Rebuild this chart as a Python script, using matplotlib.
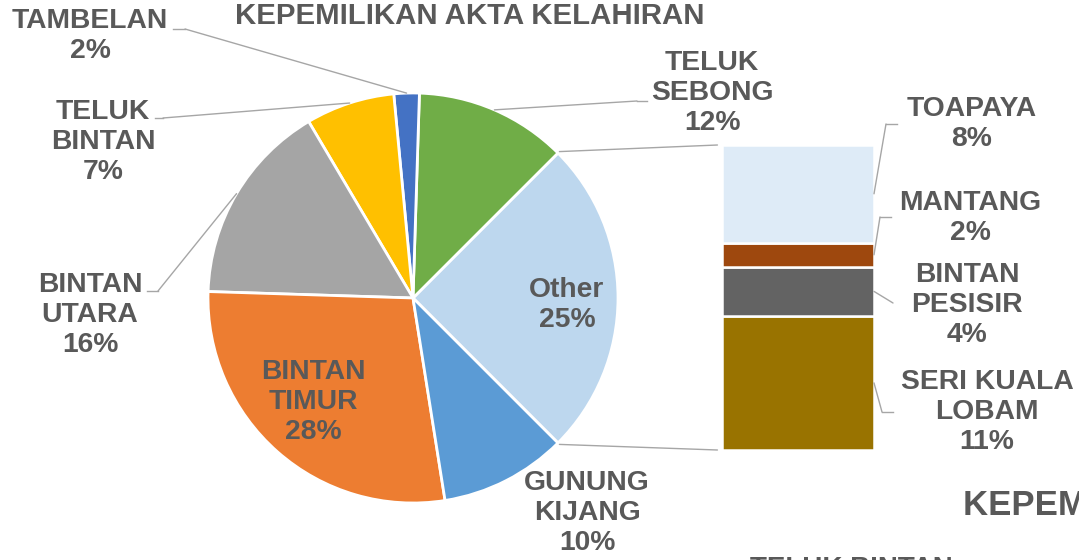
import matplotlib.pyplot as plt
from matplotlib.lines import Line2D
import numpy as np

plt.rcParams['font.family'] = ['Liberation Sans', 'DejaVu Sans']
plt.rcParams['font.weight'] = 'bold'

W, H = 1079, 560

# pie slices, counter-clockwise after the "Other" wedge
pie_names = ['TELUK SEBONG', 'TAMBELAN', 'TELUK BINTAN', 'BINTAN UTARA', 'BINTAN TIMUR', 'GUNUNG KIJANG']
pie_values = [12, 2, 7, 16, 28, 10]
pie_colors = ['#70AD47', '#4472C4', '#FFC000', '#A5A5A5', '#ED7D31', '#5B9BD5']

# the "Other" wedge broken out into the bar, bottom to top
bar_names = ['SERI KUALA LOBAM', 'BINTAN PESISIR', 'MANTANG', 'TOAPAYA']
bar_values = [11, 4, 2, 8]
bar_colors = ['#997300', '#636363', '#9E480E', '#DEEBF7']

title = 'KEPEMILIKAN AKTA KELAHIRAN'

TXT = '#595959'
LEAD = '#A6A6A6'
FS = 20.3
LS = 1.22


def ff(x, y):
    # pixel position (from top-left) -> figure fraction
    return x / W, 1 - y / H


def wrap(name):
    return '\n'.join(name.rsplit(' ', 1))


# label block centres and leader stubs, in pixels
label_pos = {
    'Other': (567, 305), 'TELUK SEBONG': (712, 93), 'TAMBELAN': (90, 36),
    'TELUK BINTAN': (103, 142), 'BINTAN UTARA': (90, 315), 'BINTAN TIMUR': (313, 402),
    'GUNUNG KIJANG': (587, 513), 'TOAPAYA': (972, 124), 'MANTANG': (970, 218),
    'BINTAN PESISIR': (967, 305), 'SERI KUALA LOBAM': (987, 412),
}
stubs = {
    'TAMBELAN': [(185, 29), (173, 29)], 'TELUK BINTAN': [(163, 118), (155, 118)],
    'BINTAN UTARA': [(158, 291), (147, 291)], 'TELUK SEBONG': [(637, 101), (647, 101)],
    'TOAPAYA': [(886, 124), (897, 124)], 'MANTANG': [(880, 217), (891, 217)],
    'BINTAN PESISIR': [(893, 303)], 'SERI KUALA LOBAM': [(882, 412), (893, 412)],
}

other = sum(bar_values)
values = [other] + pie_values
names = ['Other'] + pie_names
total = sum(values)

fig = plt.figure(figsize=(W / 100, H / 100), dpi=100)

cx, cy, r = 413, 298, 205
ax = fig.add_axes([(cx - r) / W, 1 - (cy + r) / H, 2 * r / W, 2 * r / H])
wedges, _ = ax.pie(values, colors=['#BDD7EE'] + pie_colors,
                   startangle=-180 * other / total, counterclock=True,
                   wedgeprops=dict(edgecolor='white', linewidth=2))
ax.set_xlim(-1, 1)
ax.set_ylim(-1, 1)

bx0, by0, bx1, by1 = 722, 145, 874, 450
bax = fig.add_axes([bx0 / W, 1 - by1 / H, (bx1 - bx0) / W, (by1 - by0) / H])
bottoms = np.concatenate([[0], np.cumsum(bar_values)[:-1]])
bax.bar(np.zeros(len(bar_values)), bar_values, bottom=bottoms, width=1,
        color=bar_colors, edgecolor='white', linewidth=1.8)
bax.set_xlim(-0.5, 0.5)
bax.set_ylim(0, other)
bax.axis('off')


def leader(axis, xy, name):
    pts = stubs[name]
    axis.annotate('', xy=xy, xytext=ff(*pts[0]), textcoords='figure fraction',
                  annotation_clip=False,
                  arrowprops=dict(arrowstyle='-', color=LEAD, lw=1.0,
                                  shrinkA=0, shrinkB=0))
    if len(pts) > 1:
        xs, ys = zip(*[ff(*p) for p in pts])
        fig.add_artist(Line2D(xs, ys, transform=fig.transFigure, color=LEAD, lw=1.0))


# connector lines from the Other wedge to the bar
th_a = np.deg2rad(wedges[0].theta2)
th_b = np.deg2rad(wedges[0].theta1)
for th, by in [(th_a, other), (th_b, 0)]:
    ax.annotate('', xy=(np.cos(th) * 1.01, np.sin(th) * 1.01), xycoords='data',
                xytext=(-0.53, by), textcoords=bax.transData, annotation_clip=False,
                arrowprops=dict(arrowstyle='-', color=LEAD, lw=1.0, shrinkA=0, shrinkB=0))

# pie labels
for w, name, v in zip(wedges, names, values):
    x, y = label_pos[name]
    fig.text(*ff(x, y), f'{wrap(name)}\n{v / total * 100:.0f}%', ha='center', va='center',
             multialignment='center', color=TXT, fontsize=FS, fontweight='bold',
             linespacing=LS)
    if name in stubs:
        mid = np.deg2rad((w.theta1 + w.theta2) / 2)
        leader(ax, (np.cos(mid), np.sin(mid)), name)

# bar labels
for name, v, b in zip(bar_names, bar_values, bottoms):
    x, y = label_pos[name]
    fig.text(*ff(x, y), f'{wrap(name)}\n{v / total * 100:.0f}%', ha='center', va='center',
             multialignment='center', color=TXT, fontsize=FS, fontweight='bold',
             linespacing=LS)
    leader(bax, (0.5, b + v / 2), name)

fig.text(*ff(470, 24), title, ha='center', va='baseline', color=TXT, fontsize=21.2,
         fontweight='bold')
# pieces of neighbouring charts cut off by the screenshot
fig.text(*ff(963, 515), title, ha='left', va='baseline', color=TXT, fontsize=25,
         fontweight='bold')
fig.text(*ff(750, 576), 'TELUK BINTAN', ha='left', va='baseline', color=TXT, fontsize=20,
         fontweight='bold')

fig.savefig('out.png', dpi=100)
